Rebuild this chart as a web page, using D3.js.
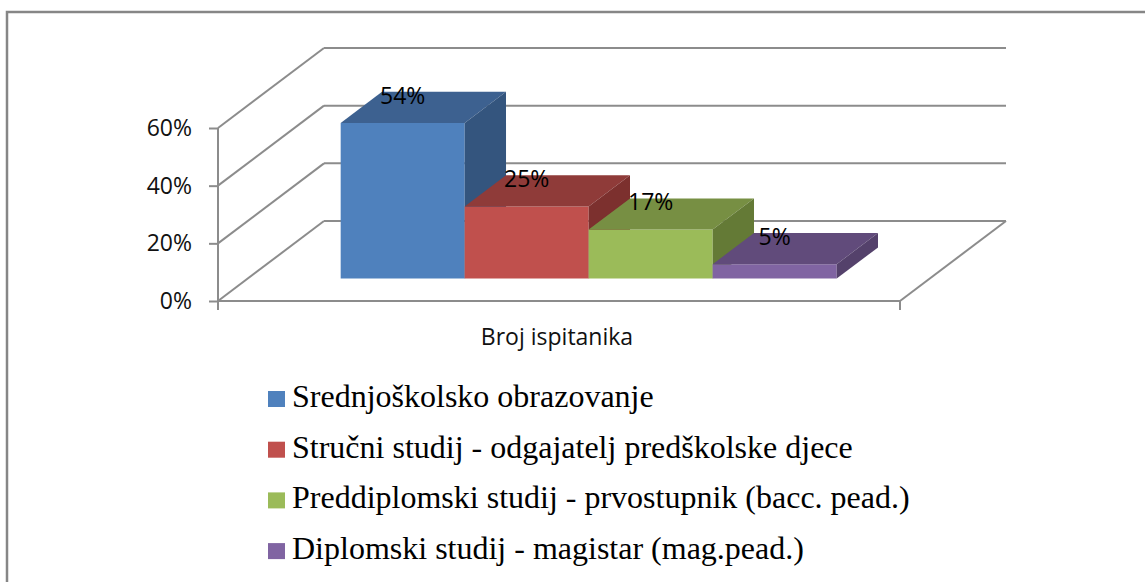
<!DOCTYPE html>
<html>
<head>
<meta charset="utf-8">
<script src="https://cdn.jsdelivr.net/npm/d3@7"></script>
<style>
  body { margin: 0; background: #fff; }
</style>
</head>
<body>
<svg id="chart" width="1145" height="582"></svg>
<script>
// data
const categories = ["Broj ispitanika"];
const seriesNames = [
  "Srednjoškolsko obrazovanje",
  "Stručni studij - odgajatelj predškolske djece",
  "Preddiplomski studij - prvostupnik (bacc. pead.)",
  "Diplomski studij - magistar (mag.pead.)"
];
const seriesValues = [54, 25, 17, 5];
const yTicks = [0, 20, 40, 60];

// face colours: front, top, side
const frontColors = ["#4f81bd", "#c0504d", "#9bbb59", "#8064a2"];
const topColors = ["#3d6190", "#8f3b39", "#778f43", "#614b7b"];
const sideColors = ["#34557e", "#7c302e", "#647a36", "#54416b"];

const svg = d3.select("#chart");
const gridColor = "#8c8c8c";

// outer frame (right and bottom run off the page)
svg.append("rect")
  .attr("x", 7).attr("y", 12)
  .attr("width", 1200).attr("height", 620)
  .attr("fill", "none")
  .attr("stroke", "#868686")
  .attr("stroke-width", 2.5);

// front plane scales
const x0 = d3.scaleBand().domain(categories).range([218, 900]).paddingInner(0).paddingOuter(0.1875);
const x1 = d3.scaleBand().domain(seriesNames).range([0, x0.bandwidth()]);
const y = d3.scaleLinear().domain([0, 60]).range([301, 128]);

// oblique depth
const depth = [106, -80];
function proj(px, py, z) {
  return [px + z * depth[0], py + z * depth[1]];
}
const zFront = 0.28, zBack = 0.67;

const g = svg.append("g");

// back wall gridlines
g.selectAll(".back-grid")
  .data(yTicks)
  .join("line")
  .attr("x1", (d) => proj(218, y(d), 1)[0])
  .attr("y1", (d) => proj(218, y(d), 1)[1])
  .attr("x2", (d) => proj(900, y(d), 1)[0])
  .attr("y2", (d) => proj(900, y(d), 1)[1])
  .attr("stroke", gridColor)
  .attr("stroke-width", 2);

// left wall diagonals
g.selectAll(".side-grid")
  .data(yTicks)
  .join("line")
  .attr("x1", 218)
  .attr("y1", (d) => y(d))
  .attr("x2", (d) => proj(218, y(d), 1)[0])
  .attr("y2", (d) => proj(218, y(d), 1)[1])
  .attr("stroke", gridColor)
  .attr("stroke-width", 2);

// floor: front edge and right edge
g.append("line")
  .attr("x1", 218).attr("y1", y(0))
  .attr("x2", 900).attr("y2", y(0))
  .attr("stroke", gridColor).attr("stroke-width", 2);
g.append("line")
  .attr("x1", 900).attr("y1", y(0))
  .attr("x2", proj(900, y(0), 1)[0]).attr("y2", proj(900, y(0), 1)[1])
  .attr("stroke", gridColor).attr("stroke-width", 2);
g.append("line")
  .attr("x1", 900).attr("y1", y(0))
  .attr("x2", 900).attr("y2", y(0) + 9)
  .attr("stroke", gridColor).attr("stroke-width", 2);

// y axis
const yAxis = g.append("g")
  .attr("transform", "translate(218,0)")
  .call(d3.axisLeft(y).tickValues(yTicks).tickFormat((d) => d + "%").tickSize(9).tickSizeOuter(0).tickPadding(17));
yAxis.select(".domain").attr("stroke", gridColor).attr("stroke-width", 2)
  .attr("d", "M0," + y(60) + "V" + (y(0) + 9));
yAxis.selectAll(".tick line").attr("stroke", gridColor).attr("stroke-width", 2);
yAxis.selectAll(".tick text")
  .attr("font-family", "'Open Sans', sans-serif")
  .attr("font-size", 23)
  .attr("fill", "#111");

// category label
g.selectAll(".cat-label")
  .data(categories)
  .join("text")
  .attr("x", (d) => x0(d) + x0.bandwidth() / 2 - 2)
  .attr("y", 345)
  .attr("text-anchor", "middle")
  .attr("font-family", "'Open Sans', sans-serif")
  .attr("font-size", 23)
  .attr("fill", "#111")
  .text((d) => d);

// bars
const bars = seriesNames.map((name, i) => {
  const left = x0(categories[0]) + x1(name);
  const right = left + x1.bandwidth();
  return { name, i, left, right, top: y(seriesValues[i]), bottom: y(0), value: seriesValues[i] };
});

const pts = (arr) => arr.map((p) => p.join(",")).join(" ");

const barG = g.selectAll(".bar")
  .data(bars)
  .join("g");

barG.append("polygon")
  .attr("points", (d) => pts([
    proj(d.left, d.top, zFront), proj(d.right, d.top, zFront),
    proj(d.right, d.bottom, zFront), proj(d.left, d.bottom, zFront)
  ]))
  .attr("fill", (d) => frontColors[d.i]);

barG.append("polygon")
  .attr("points", (d) => pts([
    proj(d.left, d.top, zFront), proj(d.right, d.top, zFront),
    proj(d.right, d.top, zBack), proj(d.left, d.top, zBack)
  ]))
  .attr("fill", (d) => topColors[d.i]);

barG.append("polygon")
  .attr("points", (d) => pts([
    proj(d.right, d.top, zFront), proj(d.right, d.top, zBack),
    proj(d.right, d.bottom, zBack), proj(d.right, d.bottom, zFront)
  ]))
  .attr("fill", (d) => sideColors[d.i]);

// value labels
g.selectAll(".val")
  .data(bars)
  .join("text")
  .attr("x", (d) => proj((d.left + d.right) / 2, d.top, zFront)[0])
  .attr("y", (d) => proj(d.left, d.top, zBack)[1] + 12)
  .attr("text-anchor", "middle")
  .attr("font-family", "'Open Sans', sans-serif")
  .attr("font-size", 23)
  .attr("fill", "#000")
  .text((d) => d.value + "%");

// legend
const legend = svg.append("g").attr("transform", "translate(268,399)");
const item = legend.selectAll(".item")
  .data(seriesNames)
  .join("g")
  .attr("transform", (d, i) => "translate(0," + i * 50.7 + ")");
item.append("rect")
  .attr("x", 0).attr("y", -8)
  .attr("width", 17).attr("height", 16)
  .attr("fill", (d, i) => frontColors[i]);
item.append("text")
  .attr("x", 24).attr("y", 8)
  .attr("font-family", "'Liberation Serif', 'Times New Roman', serif")
  .attr("font-size", 32)
  .attr("fill", "#000")
  .text((d) => d);
</script>
</body>
</html>
